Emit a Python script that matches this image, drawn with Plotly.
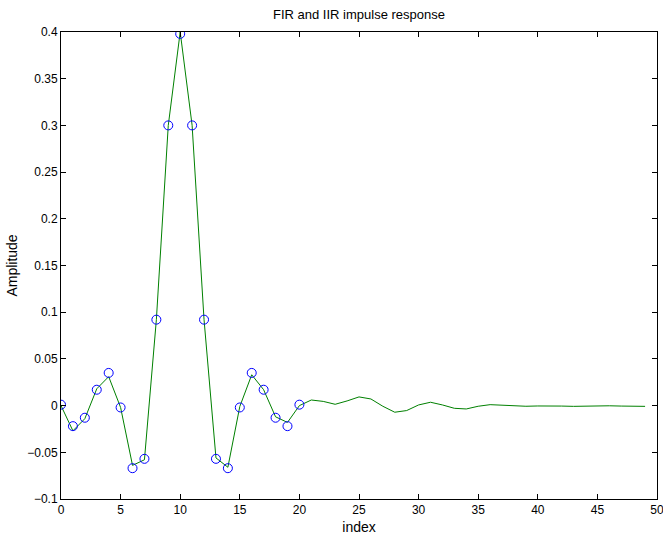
import plotly.graph_objects as go

fir_index = list(range(21))
fir_values = [0.001, -0.022, -0.013, 0.017, 0.035, -0.002, -0.067, -0.057, 0.092, 0.300, 0.398,
              0.300, 0.092, -0.057, -0.067, -0.002, 0.035, 0.017, -0.013, -0.022, 0.001]

iir_index = list(range(50))
iir_values = [0.000, -0.027, -0.014, 0.018, 0.031, -0.002, -0.064, -0.058, 0.092, 0.300, 0.400,
              0.300, 0.092, -0.056, -0.066, -0.001, 0.033, 0.017, -0.012, -0.018, 0.000,
              0.006, 0.0045, 0.0014, 0.005, 0.0093, 0.0071, -0.0007, -0.0071, -0.0053, 0.0007,
              0.0036, 0.0007, -0.0029, -0.0036, -0.0007, 0.001, 0.0004, -0.0007, -0.0007, -0.0004,
              -0.0002, -0.0005, -0.0008, -0.0005, -0.0002, -0.0002, -0.0005, -0.0007, -0.0008]

x_ticks = [0, 5, 10, 15, 20, 25, 30, 35, 40, 45, 50]
y_ticks = [-0.1, -0.05, 0, 0.05, 0.1, 0.15, 0.2, 0.25, 0.3, 0.35, 0.4]
y_tick_labels = ["\u22120.1", "\u22120.05", "0", "0.05", "0.1", "0.15", "0.2", "0.25", "0.3", "0.35", "0.4"]

fig = go.Figure()
fig.add_trace(go.Scatter(x=iir_index, y=iir_values, mode="lines",
                         line=dict(color="#008000", width=1), showlegend=False))
fig.add_trace(go.Scatter(x=fir_index, y=fir_values, mode="markers",
                         marker=dict(symbol="circle-open", size=9, color="#0000ff",
                                     line=dict(width=1, color="#0000ff")),
                         showlegend=False))

axis_common = dict(showgrid=False, zeroline=False, showline=True, linecolor="black",
                   linewidth=1, mirror="allticks", ticks="inside", ticklen=5,
                   tickcolor="black", tickfont=dict(size=12, color="black"),
                   ticklabeloverflow="allow")

fig.update_layout(
    width=663, height=535,
    margin=dict(l=61, r=6, t=32, b=36, autoexpand=False),
    paper_bgcolor="white", plot_bgcolor="white",
    font=dict(family="Liberation Sans, Arial, sans-serif", size=12, color="black"),
    title=dict(text="FIR and IIR impulse response", x=0.5, xref="paper",
               y=1, yref="paper", yanchor="bottom", pad=dict(b=13),
               font=dict(size=13, color="black")),
    xaxis=dict(range=[0, 50], tickvals=x_ticks, title=dict(text="index", standoff=6), **axis_common),
    yaxis=dict(range=[-0.1, 0.4], tickvals=y_ticks, ticktext=y_tick_labels,
               title=dict(text="Amplitude", standoff=6), **axis_common),
)

fig.write_html("out.html", post_script="document.body.style.margin='0';",
               config={"displayModeBar": False})
